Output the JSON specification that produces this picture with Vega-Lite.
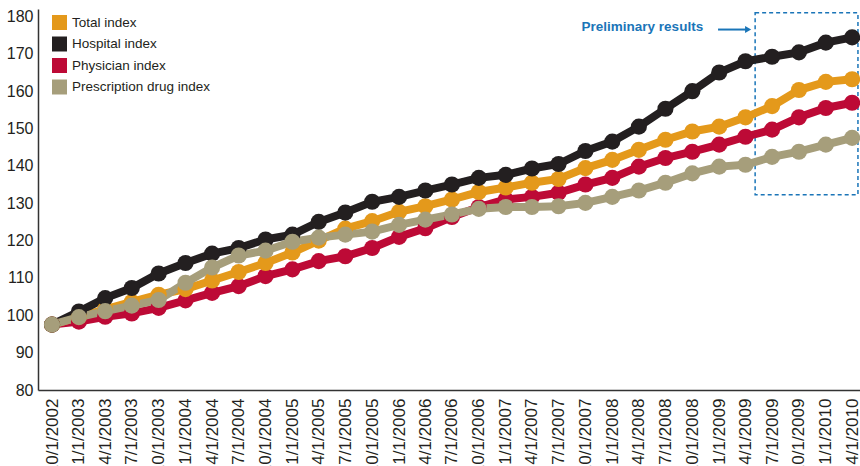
{
  "$schema": "https://vega.github.io/schema/vega-lite/v6.json",
  "width": 822,
  "height": 381,
  "autosize": {"type": "none"},
  "padding": {"left": 38, "top": 9, "right": 0, "bottom": 76},
  "background": "white",
  "config": {
    "view": {"stroke": null},
    "font": "Liberation Sans"
  },
  "encoding": {
    "x": {
      "field": "date",
      "type": "temporal",
      "scale": {
        "type": "utc",
        "domain": [
          {"year": 2002, "month": 8, "date": 14, "utc": true},
          {"year": 2010, "month": 4, "date": 28, "utc": true}
        ]
      },
      "axis": {
        "title": null,
        "grid": false,
        "ticks": false,
        "labelAngle": -90,
        "labelFontSize": 17,
        "labelFont": "Liberation Sans",
        "labelPadding": 8,
        "labelColor": "#231F20",
        "labelOverlap": false,
        "labelBound": false,
        "labelFlush": false,
        "domainColor": "#333333",
        "domainWidth": 1.5,
        "labelExpr": "utcFormat(datum.value, '%-m/%-d/%Y')",
        "values": [
          {"year": 2002, "month": 10, "date": 1, "utc": true},
          {"year": 2003, "month": 1, "date": 1, "utc": true},
          {"year": 2003, "month": 4, "date": 1, "utc": true},
          {"year": 2003, "month": 7, "date": 1, "utc": true},
          {"year": 2003, "month": 10, "date": 1, "utc": true},
          {"year": 2004, "month": 1, "date": 1, "utc": true},
          {"year": 2004, "month": 4, "date": 1, "utc": true},
          {"year": 2004, "month": 7, "date": 1, "utc": true},
          {"year": 2004, "month": 10, "date": 1, "utc": true},
          {"year": 2005, "month": 1, "date": 1, "utc": true},
          {"year": 2005, "month": 4, "date": 1, "utc": true},
          {"year": 2005, "month": 7, "date": 1, "utc": true},
          {"year": 2005, "month": 10, "date": 1, "utc": true},
          {"year": 2006, "month": 1, "date": 1, "utc": true},
          {"year": 2006, "month": 4, "date": 1, "utc": true},
          {"year": 2006, "month": 7, "date": 1, "utc": true},
          {"year": 2006, "month": 10, "date": 1, "utc": true},
          {"year": 2007, "month": 1, "date": 1, "utc": true},
          {"year": 2007, "month": 4, "date": 1, "utc": true},
          {"year": 2007, "month": 7, "date": 1, "utc": true},
          {"year": 2007, "month": 10, "date": 1, "utc": true},
          {"year": 2008, "month": 1, "date": 1, "utc": true},
          {"year": 2008, "month": 4, "date": 1, "utc": true},
          {"year": 2008, "month": 7, "date": 1, "utc": true},
          {"year": 2008, "month": 10, "date": 1, "utc": true},
          {"year": 2009, "month": 1, "date": 1, "utc": true},
          {"year": 2009, "month": 4, "date": 1, "utc": true},
          {"year": 2009, "month": 7, "date": 1, "utc": true},
          {"year": 2009, "month": 10, "date": 1, "utc": true},
          {"year": 2010, "month": 1, "date": 1, "utc": true},
          {"year": 2010, "month": 4, "date": 1, "utc": true}
        ]
      }
    },
    "y": {
      "field": "value",
      "type": "quantitative",
      "scale": {"domain": [80, 182], "nice": false, "zero": false},
      "axis": {
        "title": null,
        "grid": false,
        "ticks": false,
        "labelPadding": 5,
        "labelFontSize": 16,
        "labelFont": "Liberation Sans",
        "labelColor": "#231F20",
        "domainColor": "#333333",
        "domainWidth": 1.5,
        "values": [80, 90, 100, 110, 120, 130, 140, 150, 160, 170, 180]
      }
    }
  },
  "layer": [
    {
      "data": {"values": [{"date": "2009-05-04", "date2": "2010-04-21", "value": 132.3, "value2": 181}]},
      "mark": {"type": "rect", "fill": null, "stroke": "#1A75B8", "strokeWidth": 1.5, "strokeDash": [4, 3]},
      "encoding": {"x2": {"field": "date2"}, "y2": {"field": "value2"}}
    },
    {
      "data": {"values": [{"date": "2008-12-28", "date2": "2009-04-08", "value": 176.5}]},
      "mark": {"type": "rule", "stroke": "#1A75B8", "strokeWidth": 2},
      "encoding": {"x2": {"field": "date2"}}
    },
    {
      "data": {"values": [{"date": "2009-04-10", "value": 176.5}]},
      "mark": {"type": "point", "shape": "triangle-right", "filled": true, "fill": "#1A75B8", "size": 50, "opacity": 1, "strokeWidth": 0},
      "encoding": {}
    },
    {
      "data": {"values": [{"date": "2008-11-07", "value": 177.05, "label": "Preliminary results"}]},
      "mark": {"type": "text", "align": "right", "baseline": "middle", "fontSize": 13.5, "fontWeight": "bold", "font": "Liberation Sans", "fill": "#1A75B8"},
      "encoding": {"text": {"field": "label"}}
    },
    {
      "data": {"values": [
        {"date":"2002-10-01","series":"Physician index","value":97.5},
        {"date":"2003-01-01","series":"Physician index","value":98.3},
        {"date":"2003-04-01","series":"Physician index","value":99.6},
        {"date":"2003-07-01","series":"Physician index","value":100.5},
        {"date":"2003-10-01","series":"Physician index","value":102},
        {"date":"2004-01-01","series":"Physician index","value":104},
        {"date":"2004-04-01","series":"Physician index","value":106},
        {"date":"2004-07-01","series":"Physician index","value":107.8},
        {"date":"2004-10-01","series":"Physician index","value":110.5},
        {"date":"2005-01-01","series":"Physician index","value":112.3},
        {"date":"2005-04-01","series":"Physician index","value":114.5},
        {"date":"2005-07-01","series":"Physician index","value":115.8},
        {"date":"2005-10-01","series":"Physician index","value":118},
        {"date":"2006-01-01","series":"Physician index","value":121},
        {"date":"2006-04-01","series":"Physician index","value":123.3},
        {"date":"2006-07-01","series":"Physician index","value":126.3},
        {"date":"2006-10-01","series":"Physician index","value":129},
        {"date":"2007-01-01","series":"Physician index","value":131},
        {"date":"2007-04-01","series":"Physician index","value":131.7},
        {"date":"2007-07-01","series":"Physician index","value":132.8},
        {"date":"2007-10-01","series":"Physician index","value":135},
        {"date":"2008-01-01","series":"Physician index","value":136.8},
        {"date":"2008-04-01","series":"Physician index","value":139.8},
        {"date":"2008-07-01","series":"Physician index","value":142.1},
        {"date":"2008-10-01","series":"Physician index","value":143.8},
        {"date":"2009-01-01","series":"Physician index","value":145.7},
        {"date":"2009-04-01","series":"Physician index","value":147.8},
        {"date":"2009-07-01","series":"Physician index","value":149.7},
        {"date":"2009-10-01","series":"Physician index","value":153},
        {"date":"2010-01-01","series":"Physician index","value":155.5},
        {"date":"2010-04-01","series":"Physician index","value":156.9},
        {"date":"2002-10-01","series":"Total index","value":97.5},
        {"date":"2003-01-01","series":"Total index","value":99.6},
        {"date":"2003-04-01","series":"Total index","value":101.6},
        {"date":"2003-07-01","series":"Total index","value":103.6},
        {"date":"2003-10-01","series":"Total index","value":105.5},
        {"date":"2004-01-01","series":"Total index","value":107},
        {"date":"2004-04-01","series":"Total index","value":109.3},
        {"date":"2004-07-01","series":"Total index","value":111.6},
        {"date":"2004-10-01","series":"Total index","value":114},
        {"date":"2005-01-01","series":"Total index","value":116.8},
        {"date":"2005-04-01","series":"Total index","value":120},
        {"date":"2005-07-01","series":"Total index","value":123.2},
        {"date":"2005-10-01","series":"Total index","value":125.2},
        {"date":"2006-01-01","series":"Total index","value":127.7},
        {"date":"2006-04-01","series":"Total index","value":129.2},
        {"date":"2006-07-01","series":"Total index","value":131},
        {"date":"2006-10-01","series":"Total index","value":133},
        {"date":"2007-01-01","series":"Total index","value":134.2},
        {"date":"2007-04-01","series":"Total index","value":135.5},
        {"date":"2007-07-01","series":"Total index","value":136.5},
        {"date":"2007-10-01","series":"Total index","value":139.4},
        {"date":"2008-01-01","series":"Total index","value":141.6},
        {"date":"2008-04-01","series":"Total index","value":144.3},
        {"date":"2008-07-01","series":"Total index","value":147},
        {"date":"2008-10-01","series":"Total index","value":149.2},
        {"date":"2009-01-01","series":"Total index","value":150.5},
        {"date":"2009-04-01","series":"Total index","value":153},
        {"date":"2009-07-01","series":"Total index","value":156},
        {"date":"2009-10-01","series":"Total index","value":160.3},
        {"date":"2010-01-01","series":"Total index","value":162.5},
        {"date":"2010-04-01","series":"Total index","value":163.2},
        {"date":"2002-10-01","series":"Hospital index","value":97.5},
        {"date":"2003-01-01","series":"Hospital index","value":101},
        {"date":"2003-04-01","series":"Hospital index","value":104.6},
        {"date":"2003-07-01","series":"Hospital index","value":107.3},
        {"date":"2003-10-01","series":"Hospital index","value":111.2},
        {"date":"2004-01-01","series":"Hospital index","value":114},
        {"date":"2004-04-01","series":"Hospital index","value":116.5},
        {"date":"2004-07-01","series":"Hospital index","value":118},
        {"date":"2004-10-01","series":"Hospital index","value":120.3},
        {"date":"2005-01-01","series":"Hospital index","value":121.6},
        {"date":"2005-04-01","series":"Hospital index","value":125},
        {"date":"2005-07-01","series":"Hospital index","value":127.5},
        {"date":"2005-10-01","series":"Hospital index","value":130.4},
        {"date":"2006-01-01","series":"Hospital index","value":131.7},
        {"date":"2006-04-01","series":"Hospital index","value":133.4},
        {"date":"2006-07-01","series":"Hospital index","value":135},
        {"date":"2006-10-01","series":"Hospital index","value":136.8},
        {"date":"2007-01-01","series":"Hospital index","value":137.6},
        {"date":"2007-04-01","series":"Hospital index","value":139.3},
        {"date":"2007-07-01","series":"Hospital index","value":140.5},
        {"date":"2007-10-01","series":"Hospital index","value":144},
        {"date":"2008-01-01","series":"Hospital index","value":146.5},
        {"date":"2008-04-01","series":"Hospital index","value":150.5},
        {"date":"2008-07-01","series":"Hospital index","value":155.3},
        {"date":"2008-10-01","series":"Hospital index","value":160},
        {"date":"2009-01-01","series":"Hospital index","value":165},
        {"date":"2009-04-01","series":"Hospital index","value":168},
        {"date":"2009-07-01","series":"Hospital index","value":169.2},
        {"date":"2009-10-01","series":"Hospital index","value":170.4},
        {"date":"2010-01-01","series":"Hospital index","value":173},
        {"date":"2010-04-01","series":"Hospital index","value":174.4},
        {"date":"2002-10-01","series":"Prescription drug index","value":97.5},
        {"date":"2003-01-01","series":"Prescription drug index","value":99.5},
        {"date":"2003-04-01","series":"Prescription drug index","value":101.1},
        {"date":"2003-07-01","series":"Prescription drug index","value":102.6},
        {"date":"2003-10-01","series":"Prescription drug index","value":104.1},
        {"date":"2004-01-01","series":"Prescription drug index","value":108.7},
        {"date":"2004-04-01","series":"Prescription drug index","value":112.8},
        {"date":"2004-07-01","series":"Prescription drug index","value":116},
        {"date":"2004-10-01","series":"Prescription drug index","value":117.3},
        {"date":"2005-01-01","series":"Prescription drug index","value":119.7},
        {"date":"2005-04-01","series":"Prescription drug index","value":120.8},
        {"date":"2005-07-01","series":"Prescription drug index","value":121.6},
        {"date":"2005-10-01","series":"Prescription drug index","value":122.4},
        {"date":"2006-01-01","series":"Prescription drug index","value":124.2},
        {"date":"2006-04-01","series":"Prescription drug index","value":125.6},
        {"date":"2006-07-01","series":"Prescription drug index","value":127},
        {"date":"2006-10-01","series":"Prescription drug index","value":128.5},
        {"date":"2007-01-01","series":"Prescription drug index","value":129},
        {"date":"2007-04-01","series":"Prescription drug index","value":129},
        {"date":"2007-07-01","series":"Prescription drug index","value":129.2},
        {"date":"2007-10-01","series":"Prescription drug index","value":130.1},
        {"date":"2008-01-01","series":"Prescription drug index","value":131.7},
        {"date":"2008-04-01","series":"Prescription drug index","value":133.4},
        {"date":"2008-07-01","series":"Prescription drug index","value":135.5},
        {"date":"2008-10-01","series":"Prescription drug index","value":138},
        {"date":"2009-01-01","series":"Prescription drug index","value":139.8},
        {"date":"2009-04-01","series":"Prescription drug index","value":140.3},
        {"date":"2009-07-01","series":"Prescription drug index","value":142.4},
        {"date":"2009-10-01","series":"Prescription drug index","value":143.8},
        {"date":"2010-01-01","series":"Prescription drug index","value":145.7},
        {"date":"2010-04-01","series":"Prescription drug index","value":147.5}
      ]},
      "encoding": {
        "color": {
          "field": "series",
          "type": "nominal",
          "scale": {
            "domain": ["Total index", "Hospital index", "Physician index", "Prescription drug index"],
            "range": ["#E4991B", "#231F20", "#BD0A36", "#A69E7B"]
          },
          "legend": {
            "orient": "none",
            "legendX": 14,
            "legendY": 6,
            "title": null,
            "symbolType": "square",
            "symbolSize": 225,
            "symbolStrokeWidth": 0,
            "symbolOpacity": 1,
            "labelFontSize": 13.5,
            "labelFont": "Liberation Sans",
            "labelLimit": 400,
            "labelColor": "#231F20",
            "labelOffset": 5,
            "rowPadding": 6.5
          }
        }
      },
      "layer": [
        {"mark": {"type": "line", "strokeWidth": 8}},
        {"mark": {"type": "point", "filled": true, "size": 260, "opacity": 1}}
      ]
    }
  ]
}
